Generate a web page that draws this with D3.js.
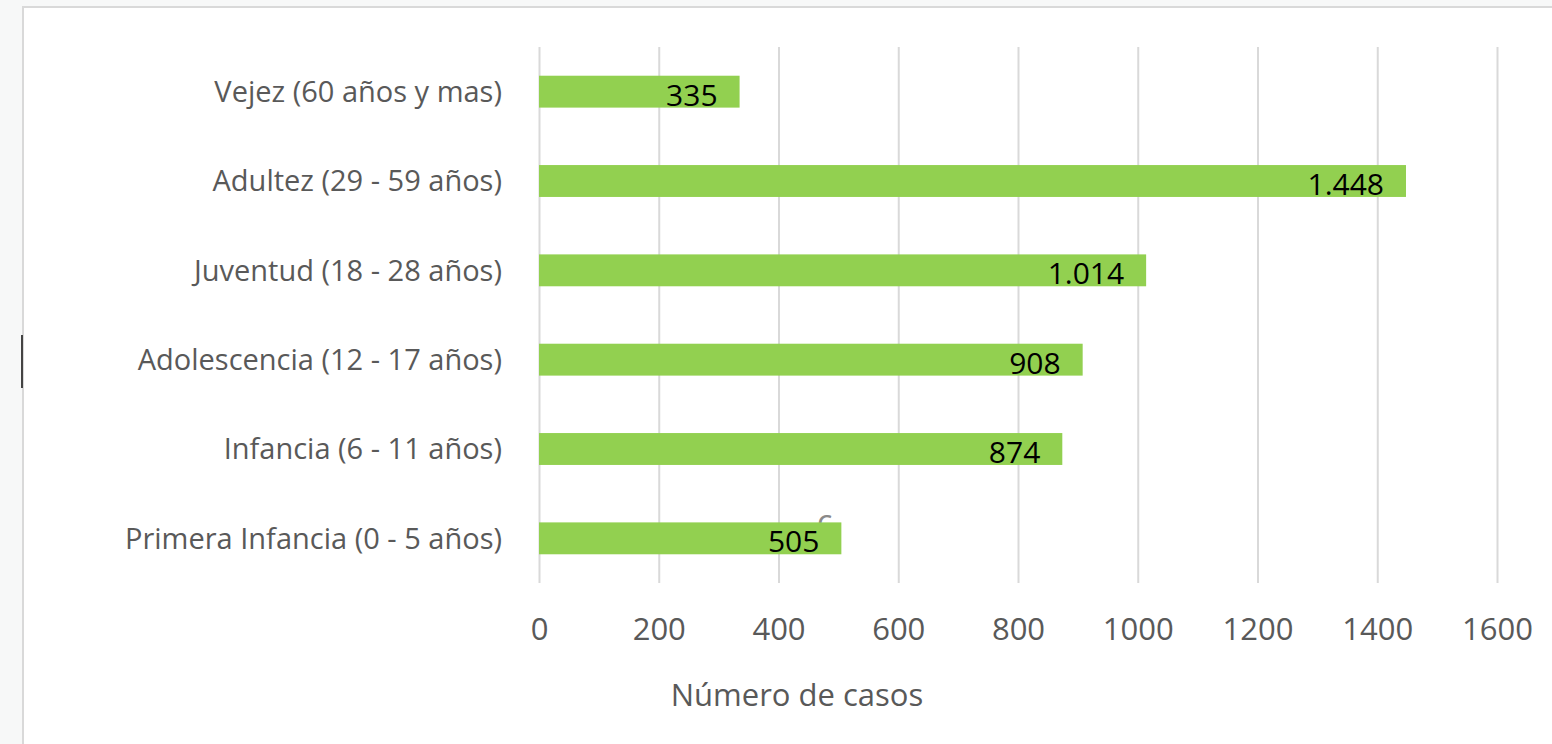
<!DOCTYPE html>
<html>
<head>
<meta charset="utf-8">
<script src="https://cdn.jsdelivr.net/npm/d3@7"></script>
<style>
  html, body { margin: 0; padding: 0; background: #f7f8f8; }
  svg { display: block; }
</style>
</head>
<body>
<svg id="chart" width="1552" height="744"></svg>
<script>
// Casos por grupo de edad (curso de vida)
const categories = [
  "Vejez (60 años y mas)",
  "Adultez (29 - 59 años)",
  "Juventud (18 - 28 años)",
  "Adolescencia (12 - 17 años)",
  "Infancia (6 - 11 años)",
  "Primera Infancia (0 - 5 años)"
];
const values = [335, 1448, 1014, 908, 874, 505];
const xTicks = [0, 200, 400, 600, 800, 1000, 1200, 1400, 1600];
const axisTitle = "Número de casos";

const FONT = "'Open Sans', sans-serif";
const svg = d3.select("#chart");

// chart panel with a light frame on the top and left edges
svg.append("rect").attr("x", 23).attr("y", 7).attr("width", 1540).attr("height", 750)
  .attr("fill", "#fff").attr("stroke", "#d9d9d9").attr("stroke-width", 2);
svg.append("line").attr("x1", 22).attr("x2", 22).attr("y1", 335).attr("y2", 388)
  .attr("stroke", "#444").attr("stroke-width", 2);

const x = d3.scaleLinear().domain([0, 1600]).range([539, 1497]);
const y = d3.scaleBand().domain(categories).range([47, 583]).paddingInner(0.643).paddingOuter(0.3215);

const es = d3.formatLocale({ decimal: ",", thousands: ".", grouping: [3], currency: ["$", ""] });
const fmt = es.format(",d");

// gridlines + tick labels
const xAxis = d3.axisBottom(x).tickValues(xTicks).tickSize(583 - 47).tickFormat(d3.format("d"));
const gx = svg.append("g").attr("transform", "translate(0,47)").call(xAxis);
gx.select(".domain").remove();
gx.selectAll(".tick line").attr("stroke", "#d9d9d9").attr("stroke-width", 2);
gx.selectAll(".tick text").attr("fill", "#595959").attr("font-family", FONT)
  .attr("font-size", 31).attr("dy", 0).attr("y", 583 - 47 + 57);

// category labels
const gy = svg.append("g").attr("transform", "translate(539,0)")
  .call(d3.axisLeft(y).tickSize(0).tickPadding(37));
gy.select(".domain").remove();
gy.selectAll(".tick text").attr("fill", "#595959").attr("font-family", FONT)
  .attr("font-size", 29).attr("dy", "0.36em");

// stray glyph partly hidden under the bottom bar
svg.append("text").attr("x", 817).attr("y", 533).attr("fill", "#8a8a8a")
  .attr("font-family", FONT).attr("font-size", 32).text("c");

// bars
svg.append("g").selectAll("rect").data(values).join("rect")
  .attr("x", x(0))
  .attr("y", (d, i) => y(categories[i]))
  .attr("width", d => x(d) - x(0))
  .attr("height", y.bandwidth())
  .attr("fill", "#92d050");

// value labels inside the bar end
svg.append("g").selectAll("text").data(values).join("text")
  .attr("x", d => x(d) - 22)
  .attr("y", (d, i) => y(categories[i]) + y.bandwidth() / 2 + 14)
  .attr("text-anchor", "end")
  .attr("fill", "#000")
  .attr("font-family", FONT)
  .attr("font-size", 30)
  .text(d => fmt(d));

// axis title
svg.append("text").attr("x", 797).attr("y", 706).attr("text-anchor", "middle")
  .attr("fill", "#595959").attr("font-family", FONT).attr("font-size", 31)
  .text(axisTitle);
</script>
</body>
</html>
